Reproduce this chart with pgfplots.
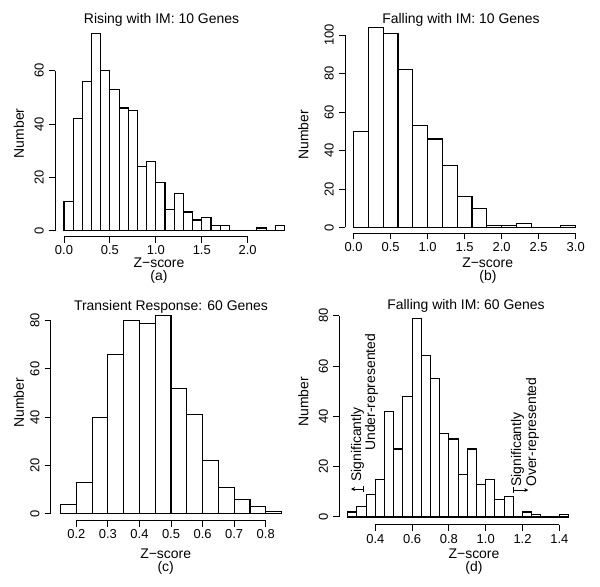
\documentclass[border=0pt]{standalone}
\usepackage{fontspec}
\setmainfont{Liberation Sans}
\usepackage{pgfplots}
\pgfplotsset{compat=1.18}
\usetikzlibrary{arrows.meta}

\newcommand{\lbl}{\fontsize{14}{16}\selectfont}
\pgfplotsset{
 rhist/.style={
  scale only axis,
  axis x line*=bottom, axis y line*=left,
  axis line style={draw=none},
  tick align=outside,
  major tick length=6bp,
  tick style={black, line width=1bp},
  clip=false,
  anchor=south west,
  /pgf/number format/assume math mode=true,
  tick label style={font=\fontsize{13}{15}\selectfont, inner sep=1bp},
  y tick label style={rotate=90, anchor=south},
  x tick label style={anchor=north},
  xticklabel={\pgfmathprintnumber[fixed,fixed zerofill,precision=1]{\tick}},
  yticklabel={\pgfmathprintnumber[fixed,precision=0]{\tick}},
  yticklabel shift=4bp,
  xticklabel shift=2bp,
 },
 hbar/.style={ybar interval, fill=white, draw=black, line width=1.1bp},
}

\begin{document}
\begin{tikzpicture}[x=1bp,y=1bp]
\useasboundingbox (0,0) rectangle (600,587);

% (a)
\begin{axis}[rhist, at={(55bp,350.3bp)}, width=238.6bp, height=214bp,
  xmin=-0.098, xmax=2.5, ymin=-2.25, ymax=78,
  xtick={0,0.5,1,1.5,2}, ytick={0,20,40,60}]
\addplot[hbar] coordinates {
(0.0,11) (0.1,42) (0.2,56) (0.3,74) (0.4,60) (0.5,53) (0.6,46) (0.7,45)
(0.8,24) (0.9,26) (1.0,18) (1.1,8) (1.2,14) (1.3,7) (1.4,4) (1.5,5)
(1.6,2) (1.7,2) (1.8,0) (1.9,0) (2.0,0) (2.1,1) (2.2,0) (2.3,2) (2.4,0)};
\draw[line width=1bp] (axis cs:0,-2.25) -- (axis cs:2,-2.25);
\draw[line width=1bp] (axis cs:-0.098,0) -- (axis cs:-0.098,60);
\end{axis}

% (b)
\begin{axis}[rhist, at={(345bp,353.7bp)}, width=238.1bp, height=217.5bp,
  xmin=-0.115, xmax=3.1, ymin=-3.01, ymax=110,
  xtick={0,0.5,1,1.5,2,2.5,3}, ytick={0,20,40,60,80,100}]
\addplot[hbar] coordinates {
(0.0,50) (0.2,104) (0.4,101) (0.6,82) (0.8,53) (1.0,46) (1.2,32) (1.4,16)
(1.6,10) (1.8,1) (2.0,1) (2.2,2) (2.4,0) (2.6,0) (2.8,1) (3.0,0)};
\draw[line width=1bp] (axis cs:0,-3.01) -- (axis cs:3,-3.01);
\draw[line width=1bp] (axis cs:-0.115,0) -- (axis cs:-0.115,100);
\end{axis}

% (c)
\begin{axis}[rhist, at={(50.7bp,66.3bp)}, width=240.3bp, height=219.3bp,
  xmin=0.1189, xmax=0.88, ymin=-2.9, ymax=88,
  xtick={0.2,0.3,0.4,0.5,0.6,0.7,0.8}, ytick={0,20,40,60,80}]
\addplot[hbar] coordinates {
(0.15,4) (0.20,13) (0.25,40) (0.30,66) (0.35,80) (0.40,79) (0.45,82)
(0.50,52) (0.55,41) (0.60,22) (0.65,11) (0.70,6) (0.75,3) (0.80,1) (0.85,0)};
\draw[line width=1bp] (axis cs:0.2,-2.9) -- (axis cs:0.8,-2.9);
\draw[line width=1bp] (axis cs:0.1189,0) -- (axis cs:0.1189,80);
\end{axis}

% (d)
\begin{axis}[rhist, at={(339.3bp,62bp)}, width=238.4bp, height=221.9bp,
  xmin=0.2043, xmax=1.5, ymin=-3.18, ymax=85,
  xtick={0.4,0.6,0.8,1.0,1.2,1.4}, ytick={0,20,40,60,80}]
\addplot[hbar] coordinates {
(0.25,2) (0.30,4) (0.35,9) (0.40,15) (0.45,42) (0.50,27) (0.55,48) (0.60,79)
(0.65,64) (0.70,55) (0.75,33) (0.80,31) (0.85,17) (0.90,27) (0.95,13) (1.00,15)
(1.05,7) (1.10,8) (1.15,0) (1.20,2) (1.25,1) (1.30,0) (1.35,0) (1.40,1) (1.45,0)};
\draw[line width=1bp] (axis cs:0.4,-3.18) -- (axis cs:1.4,-3.18);
\draw[line width=1bp] (axis cs:0.2043,0) -- (axis cs:0.2043,80);
\draw[line width=1bp, {Bar[width=6bp]-Stealth[length=4bp,width=4bp]}] (axis cs:0.339,11.1) -- (axis cs:0.268,11.1);
\draw[line width=1bp, {Bar[width=6bp]-Stealth[length=4bp,width=4bp]}] (axis cs:1.15,10.7) -- (axis cs:1.2315,10.7);
\end{axis}

\begin{scope}[every node/.style={font=\lbl, inner sep=0pt}]
% titles
\node[anchor=base] at (161.5,563) {Rising with IM: 10 Genes};
\node[anchor=base] at (461,563) {Falling with IM: 10 Genes};
\node[anchor=base] at (171,276.5) {Transient Response: 60 Genes};
\node[anchor=base] at (466,277) {Falling with IM: 60 Genes};
% x labels
\node[anchor=base] at (159,319.7) {Z−score};
\node[anchor=base] at (159,306.5) {(a)};
\node[anchor=base] at (487.7,319.7) {Z−score};
\node[anchor=base] at (488,306.5) {(b)};
\node[anchor=base] at (165.7,28.7) {Z−score};
\node[anchor=base] at (165.7,15.5) {(c)};
\node[anchor=base] at (474,28.7) {Z−score};
\node[anchor=base] at (474,15.5) {(d)};
% y labels
\node[rotate=90] at (19,453.7) {Number};
\node[rotate=90] at (303.5,452) {Number};
\node[rotate=90] at (19,184) {Number};
\node[rotate=90] at (303.5,185) {Number};
% annotations
\node[rotate=90, anchor=mid west] at (358.5,105) {Significantly};
\node[rotate=90, anchor=mid west] at (372.5,136) {Under-represented};
\node[rotate=90, anchor=mid west] at (518.5,100) {Significantly};
\node[rotate=90, anchor=mid west] at (533.5,100) {Over-represented};
\end{scope}
\end{tikzpicture}
\end{document}
